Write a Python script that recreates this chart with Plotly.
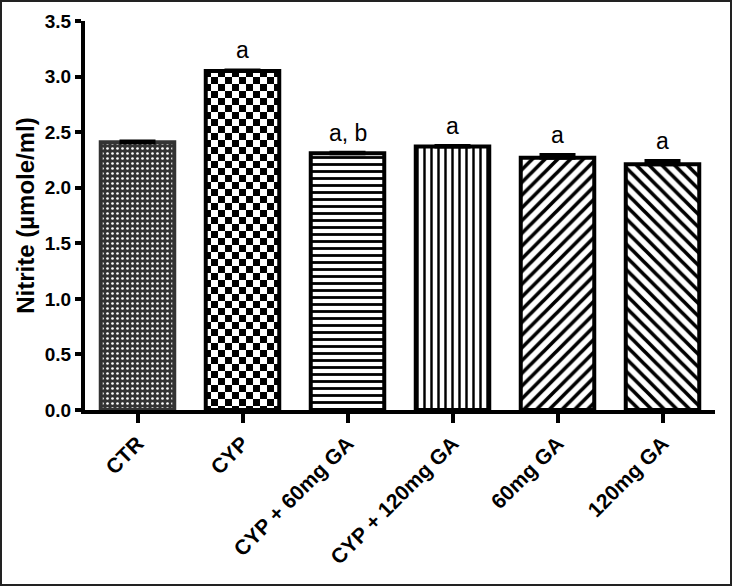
import plotly.graph_objects as go

categories = ["CTR", "CYP", "CYP + 60mg GA", "CYP + 120mg GA", "60mg GA", "120mg GA"]
nitrite = [2.41, 3.05, 2.31, 2.37, 2.27, 2.21]
sem = [0.005, 0.005, 0.005, 0.005, 0.025, 0.03]
sig_labels = ["", "a", "a, b", "a", "a", "a"]

patterns = [".", None, "-", "|", "/", "\\"]
paths = [None, "M0,0H7V7H0Z M7,7H14V14H7Z", None, None, None, None]
bgcols = ["#333333", "white", "white", "white", "white", "white"]
fgcols = ["white", "black", "black", "black", "black", "black"]
sizes = [5, 14, 7, 7, 9, 9]
solid = [0.22, 0.5, 0.4, 0.35, 0.4, 0.4]
lines = ["#333333", "black", "black", "black", "black", "black"]

W, H = 732, 586
ml, mr, mt, mb = 85, 17, 21, 176

fig = go.Figure()
for i, c in enumerate(categories):
    pat = dict(bgcolor=bgcols[i], fgcolor=fgcols[i], fgopacity=1, size=sizes[i],
               solidity=solid[i], fillmode="overlay")
    if paths[i]:
        pat["path"] = paths[i]
    else:
        pat["shape"] = patterns[i]
    fig.add_trace(go.Bar(
        x=[c], y=[nitrite[i]], width=0.7,
        marker=dict(color=bgcols[i], line=dict(color=lines[i], width=4), pattern=pat),
        error_y=dict(type="data", array=[sem[i]], arrayminus=[0], symmetric=False,
                     color="black", thickness=4, width=18),
        showlegend=False,
    ))

for c, v, e, t in zip(categories, nitrite, sem, sig_labels):
    if t:
        fig.add_annotation(x=c, y=v + e, text=t, showarrow=False,
                           yanchor="bottom", yshift=5,
                           font=dict(family="Arial, Liberation Sans", size=23, color="black"))

pw = W - ml - mr
ph = H - mt - mb
fig.add_shape(type="rect", xref="paper", yref="paper",
              x0=-ml / pw + 1 / pw, x1=1 + mr / pw - 1 / pw,
              y0=-mb / ph + 1 / ph, y1=1 + mt / ph - 1 / ph,
              line=dict(color="#222222", width=2))

xfont = dict(size=21, family="Arial, Liberation Sans", weight="bold", color="black")
yfont = dict(size=19, family="Arial, Liberation Sans", weight="bold", color="black")
fig.update_layout(
    width=W, height=H,
    margin=dict(l=ml, r=mr, t=mt, b=mb),
    plot_bgcolor="white", paper_bgcolor="white",
    font=dict(family="Arial, Liberation Sans", color="black"),
    barmode="overlay",
    xaxis=dict(range=[-0.5, 5.5], showline=True, linewidth=4, linecolor="black",
               ticks="outside", ticklen=9, tickwidth=4, tickcolor="black",
               tickangle=-45, tickfont=xfont, automargin=False,
               showgrid=False, zeroline=False),
    yaxis=dict(range=[0, 3.5], dtick=0.5, tickformat=".1f", showline=True, linewidth=4,
               linecolor="black", ticks="outside", ticklen=6, tickwidth=4, tickcolor="black",
               tickfont=yfont, automargin=False,
               showgrid=False, zeroline=False,
               title=dict(text="Nitrite (µmole/ml)",
                          font=dict(size=24, family="Arial, Liberation Sans", weight="bold"),
                          standoff=4)),
)

fig.write_html("out.html", config={"displayModeBar": False},
               post_script="document.body.style.margin='0';")
